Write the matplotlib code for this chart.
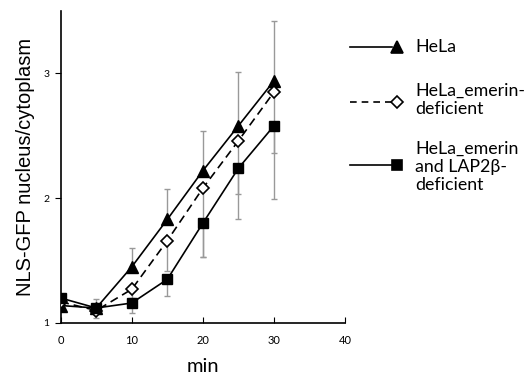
import matplotlib
matplotlib.use("Agg")
import matplotlib.pyplot as plt
from matplotlib.lines import Line2D

minutes = [0, 5, 10, 15, 20, 25, 30]

hela = [1.14, 1.12, 1.45, 1.83, 2.22, 2.58, 2.94]
hela_err_up = [0.02, 0.07, 0.15, 0.24, 0.32, 0.43, 0.48]

emerin = [1.17, 1.10, 1.27, 1.66, 2.08, 2.46, 2.85]
emerin_err_down = [0.02, 0.06, 0.07, 0.24, 0.55, 0.43, 0.49]

lap2b = [1.20, 1.12, 1.16, 1.35, 1.80, 2.24, 2.58]
lap2b_err_down = [0.03, 0.05, 0.08, 0.13, 0.27, 0.41, 0.59]

labels = ["HeLa", "HeLa_emerin-\ndeficient", "HeLa_emerin\nand LAP2β-\ndeficient"]

fig = plt.figure(figsize=(5.3, 3.75), dpi=100)
ax = fig.add_axes([0.1145, 0.1387, 0.5365, 0.832])

errkw = dict(fmt="none", ecolor="#999999", elinewidth=1, capsize=2, capthick=1, zorder=1)
ax.errorbar(minutes, hela, yerr=[[0] * 7, hela_err_up], **errkw)
ax.errorbar(minutes, emerin, yerr=[emerin_err_down, [0] * 7], **errkw)
ax.errorbar(minutes, lap2b, yerr=[lap2b_err_down, [0] * 7], **errkw)

ax.plot(minutes, hela, color="black", lw=1.2, marker="^", ms=9, zorder=3)
ax.plot(minutes, emerin, color="black", lw=1.2, ls=(0, (5, 3)), marker="D", ms=6.5,
        mfc="white", mec="black", mew=1.2, zorder=3)
ax.plot(minutes, lap2b, color="black", lw=1.2, marker="s", ms=7, zorder=3)

ax.set_xlim(0, 40)
ax.set_ylim(1, 3.5)
ax.set_xticks([0, 10, 20, 30, 40])
ax.set_yticks([1, 2, 3])
ax.spines["top"].set_visible(False)
ax.spines["right"].set_visible(False)
ax.spines["left"].set_linewidth(1.2)
ax.spines["bottom"].set_linewidth(1.2)
ax.tick_params(axis="x", direction="in", length=4, labelsize=8, pad=9)
ax.tick_params(axis="y", direction="out", length=4, labelsize=7.5, pad=4)
for t in ax.get_xticklabels() + ax.get_yticklabels():
    t.set_fontfamily("Lato")

ax.set_xlabel("min", fontsize=14.5, family="Lato", labelpad=8)
ax.set_ylabel("NLS-GFP nucleus/cytoplasm", fontsize=14.5, family="Liberation Sans", labelpad=6)

# legend drawn by hand: line with the marker at its right end
rows = [
    (0.8755, "-", "^", 9, "black", labels[0], 0.8755),
    (0.729, (0, (4, 3)), "D", 6.5, "white", labels[1], 0.733),
    (0.56, "-", "s", 7, "black", labels[2], 0.555),
]
for (y, ls, mk, ms, mfc, lab, ty) in rows:
    fig.add_artist(Line2D([0.660, 0.740], [y, y], transform=fig.transFigure,
                          color="black", lw=1.2, ls=ls))
    fig.add_artist(Line2D([0.749], [y], transform=fig.transFigure, marker=mk, ms=ms,
                          mfc=mfc, mec="black", mew=1.2, ls="none"))
    fig.text(0.783, ty, lab, fontsize=12.8, family="Lato", va="center", ha="left",
             linespacing=1.18)

fig.savefig("out.png", dpi=100)
